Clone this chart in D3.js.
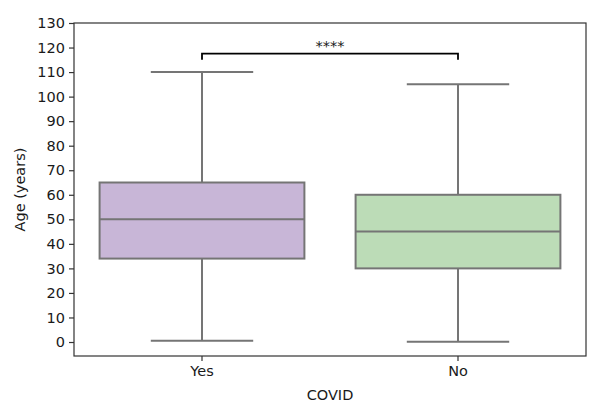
<!DOCTYPE html>
<html><head><meta charset="utf-8">
<script src="https://cdn.jsdelivr.net/npm/d3@7"></script>
<style>body{margin:0;background:#fff}svg{display:block}text{font-family:"DejaVu Sans",sans-serif;fill:#1a1a1a}</style>
</head><body>
<svg id="c" width="607" height="409"></svg>
<script>
const categories = ["Yes", "No"];
const whiskerLow = [0.5, 0.1];
const q1 = [34, 30];
const median = [50, 45];
const q3 = [65, 60];
const whiskerHigh = [110, 105];
const fills = ["#c8b6d7", "#bcdcb7"];
const yTicks = [0,10,20,30,40,50,60,70,80,90,100,110,120,130];
const sigLabel = "****";
const sigLevel = 117.5;

const svg = d3.select("#c");
const L = 74, R = 586, T = 23, B = 356;
const x = d3.scaleBand().domain(categories).range([L, R]).paddingInner(0).paddingOuter(0);
const y = d3.scaleLinear().domain([-5.7, 130]).range([B, T]);
const bw = x.bandwidth() * 0.8;
const edge = "#757575";
const fs = 14.5;

const data = categories.map((c, i) => ({c, lo: whiskerLow[i], q1: q1[i], med: median[i], q3: q3[i], hi: whiskerHigh[i], fill: fills[i]}));
const g = svg.append("g");
data.forEach(d => {
  const cx = x(d.c) + x.bandwidth() / 2;
  g.append("line").attr("x1", cx).attr("x2", cx).attr("y1", y(d.hi)).attr("y2", y(d.q3)).attr("stroke", edge).attr("stroke-width", 2);
  g.append("line").attr("x1", cx).attr("x2", cx).attr("y1", y(d.q1)).attr("y2", y(d.lo)).attr("stroke", edge).attr("stroke-width", 2);
  g.append("line").attr("x1", cx - bw/4).attr("x2", cx + bw/4).attr("y1", y(d.hi)).attr("y2", y(d.hi)).attr("stroke", edge).attr("stroke-width", 2);
  g.append("line").attr("x1", cx - bw/4).attr("x2", cx + bw/4).attr("y1", y(d.lo)).attr("y2", y(d.lo)).attr("stroke", edge).attr("stroke-width", 2);
  g.append("rect").attr("x", cx - bw/2).attr("width", bw).attr("y", y(d.q3)).attr("height", y(d.q1) - y(d.q3)).attr("fill", d.fill).attr("stroke", edge).attr("stroke-width", 2);
  g.append("line").attr("x1", cx - bw/2).attr("x2", cx + bw/2).attr("y1", y(d.med)).attr("y2", y(d.med)).attr("stroke", edge).attr("stroke-width", 2);
});

// significance bracket
const x1 = x(categories[0]) + x.bandwidth()/2, x2 = x(categories[1]) + x.bandwidth()/2;
const yb = y(sigLevel), yd = y(sigLevel - 2.5);
svg.append("path").attr("d", `M${x1},${yd}V${yb}H${x2}V${yd}`).attr("fill", "none").attr("stroke", "#000").attr("stroke-width", 1.8);
svg.append("text").attr("x", (x1 + x2)/2).attr("y", yb - 3).attr("text-anchor", "middle").attr("font-size", fs).text(sigLabel);

// frame
svg.append("rect").attr("x", L).attr("y", T).attr("width", R - L).attr("height", B - T).attr("fill", "none").attr("stroke", "#333").attr("stroke-width", 1.2);

// axes
const ya = svg.append("g").attr("transform", `translate(${L},0)`).call(d3.axisLeft(y).tickValues(yTicks).tickSize(5).tickPadding(4));
const xa = svg.append("g").attr("transform", `translate(0,${B})`).call(d3.axisBottom(x).tickSize(5).tickPadding(5));
[ya, xa].forEach(a => {
  a.select(".domain").remove();
  a.selectAll("line").attr("stroke", "#333").attr("stroke-width", 1.2);
  a.selectAll("text").attr("font-size", fs).attr("font-family", "DejaVu Sans, sans-serif").attr("fill", "#1a1a1a");
});

svg.append("text").attr("transform", `translate(25,${(T+B)/2}) rotate(-90)`).attr("text-anchor", "middle").attr("font-size", fs).text("Age (years)");
svg.append("text").attr("x", (L+R)/2).attr("y", 400).attr("text-anchor", "middle").attr("font-size", fs).text("COVID");
</script>
</body></html>
